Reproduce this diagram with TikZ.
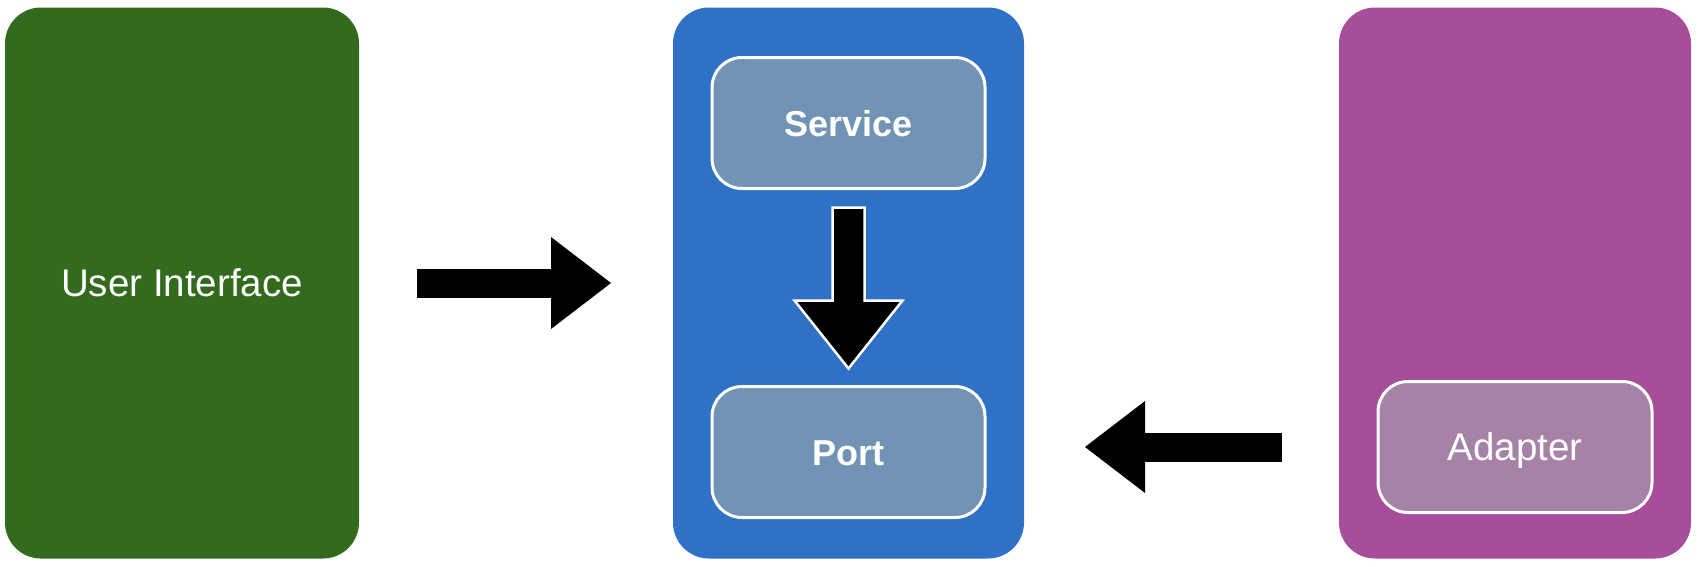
\documentclass[tikz,border=0pt]{standalone}
\usepackage{fontspec}
\setmainfont{Liberation Sans}
\usetikzlibrary{positioning,calc,arrows.meta}

\definecolor{uigreen}{HTML}{336B1E}
\definecolor{coreblue}{HTML}{2E71C7}
\definecolor{innerblue}{HTML}{7093B6}
\definecolor{infrapurple}{HTML}{A64D9C}
\definecolor{innerpurple}{HTML}{A683A6}

\begin{document}
\begin{tikzpicture}[
    x=1pt, y=-1pt,
    layer/.style={rectangle, rounded corners=36pt, outer sep=0pt, minimum width=352pt, minimum height=551pt, text=white, align=center},
    part/.style={rectangle, rounded corners=30pt, draw=white, line width=3pt, outer sep=0pt, minimum width=273pt, minimum height=131pt, text=white, text height=27pt, text depth=0pt},
    boldlabel/.style={font=\fontsize{36}{40}\selectfont\bfseries},
    plainlabel/.style={font=\fontsize{38.5}{44}\selectfont},
    blockarrow/.style={line width=29pt, -{Triangle[length=60pt, width=92pt, line width=0pt]}},
    outlined/.style={fill=black, draw=white, line width=2.5pt, line join=miter}
]
    \useasboundingbox (0,0) rectangle (1704,566);

    % Livelli
    \node[layer, fill=uigreen, minimum width=354pt, plainlabel, text height=27pt, text depth=0pt] (ui) at (182,283) {User Interface};
    \node[layer, fill=coreblue, minimum width=351pt, right=314pt of ui] (core) {};
    \node[layer, fill=infrapurple, right=315pt of core] (infra) {};

    % Componenti interni
    \node[part, fill=innerblue, boldlabel, below=50pt of core.north] (service) {Service};
    \node[part, fill=innerblue, boldlabel, below=198pt of service] (port) {Port};
    \node[part, fill=innerpurple, plainlabel, minimum width=274pt, above=46pt of infra.south] (adapter) {Adapter};

    % Frecce
    \draw[blockarrow, shorten <=58pt, shorten >=62pt] (ui.east) -- (core.west);
    \draw[blockarrow, shorten <=96pt, shorten >=100pt] (adapter.west) -- (adapter.west -| port.east);
    \draw[outlined] ($(service.south)+(-16,19)$) -- ++(0,93) -- ++(-38,0) -- ($(port.north)+(0,-18)$)
        -- ($(service.south)+(54,112)$) -- ++(-38,0) -- ++(0,-93) -- cycle;
\end{tikzpicture}
\end{document}
